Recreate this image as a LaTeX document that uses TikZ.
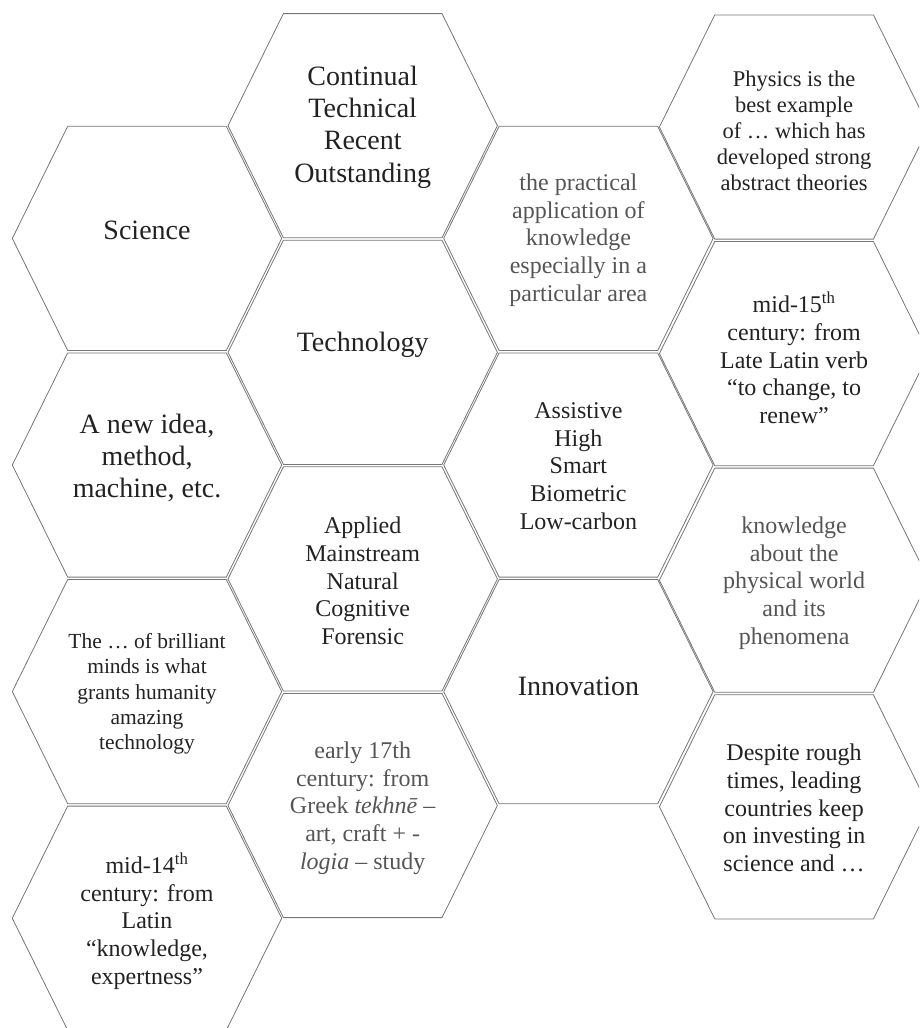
\documentclass[tikz,border=0pt]{standalone}
\usepackage{fontspec}
\setmainfont{Liberation Serif}
\definecolor{hexgray}{RGB}{118,118,118}
\definecolor{txtdark}{RGB}{34,34,34}
\definecolor{txtgray}{RGB}{85,85,85}
\newcommand\hexcell[2]{\draw[hexline,shift={(#1,#2)}] (-134.7,0) -- (-79.3,-112.1) -- (79.3,-112.1) -- (134.7,0) -- (79.3,112.1) -- (-79.3,112.1) -- cycle;}
\tikzset{
  hexline/.style={draw=hexgray,line width=0.8pt,line join=miter},
  lbl/.style={inner sep=0pt,align=center,text=txtdark},
  big/.style={lbl,font=\fontsize{28}{32.4}\selectfont},
  mid/.style={lbl,font=\fontsize{24}{27.7}\selectfont},
  small/.style={lbl,font=\fontsize{21.5}{25.3}\selectfont},
  defn/.style={mid,text=txtgray}
}
\begin{document}
\begin{tikzpicture}[x=1pt,y=-1pt]
\useasboundingbox (0,0) rectangle (919,1028);
\clip (0,0) rectangle (919,1028);
% column 1
\hexcell{147}{238.4}
\hexcell{147}{465}
\hexcell{147}{691.6}
\hexcell{147}{918.2}
% column 2
\hexcell{362.7}{125.7}
\hexcell{362.7}{352.3}
\hexcell{362.7}{578.9}
\hexcell{362.7}{805.5}
% column 3
\hexcell{578.4}{238.4}
\hexcell{578.4}{465}
\hexcell{578.4}{691.6}
% column 4
\hexcell{794.1}{127}
\hexcell{794.1}{353.6}
\hexcell{794.1}{580.2}
\hexcell{794.1}{806.8}
% texts
\node[big] (science) at (147,230) {Science};
\node[big] (continual) at (362.7,127) {Continual\\Technical\\Recent\\Outstanding};
\node[defn] (practical) at (578.4,240) {the practical\\application of\\knowledge\\especially in a\\particular area};
\node[lbl,font=\fontsize{22.5}{26}\selectfont] (physics) at (794.1,131) {Physics is the\\best example\\of \dots\ which has\\developed strong\\abstract theories};
\node[big] (technology) at (362.7,345) {Technology};
\node[big] (newidea) at (147,458) {A new idea,\\method,\\machine, etc.};
\node[mid] (mid15) at (794.1,358) {mid-15\textsuperscript{th}\\century: from\\Late Latin verb\\“to change, to\\renew”};
\node[mid] (assistive) at (578.4,466) {Assistive\\High\\Smart\\Biometric\\Low-carbon};
\node[mid] (applied) at (362.7,581) {Applied\\Mainstream\\Natural\\Cognitive\\Forensic};
\node[defn] (knowledge) at (794.1,583) {knowledge\\about the\\physical world\\and its\\phenomena};
\node[small] (brilliant) at (147,694) {The … of brilliant\\minds is what\\grants humanity\\amazing\\technology};
\node[big] (innovation) at (578.4,686) {Innovation};
\node[defn] (early17) at (362.7,808) {early 17th\\century: from\\Greek \textit{tekhnē} –\\art, craft + -\\\textit{logia} – study};
\node[mid] (despite) at (794.1,808) {Despite rough\\times, leading\\countries keep\\on investing in\\science and …};
\node[mid] (mid14) at (147,921) {mid-14\textsuperscript{th}\\century: from\\Latin\\“knowledge,\\expertness”};
\end{tikzpicture}
\end{document}
